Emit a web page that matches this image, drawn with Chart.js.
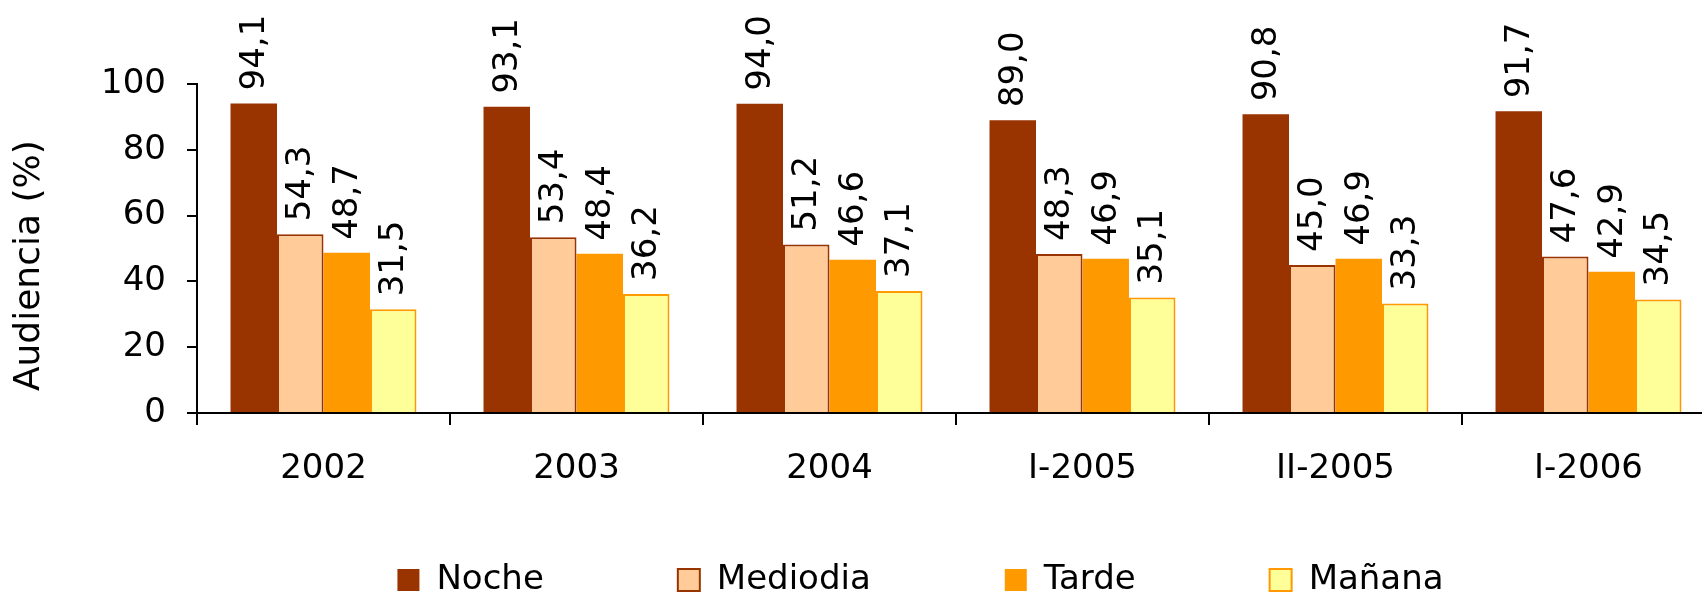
<!DOCTYPE html>
<html>
<head>
<meta charset="utf-8">
<script src="https://cdn.jsdelivr.net/npm/chart.js@4.4.0/dist/chart.umd.min.js"></script>
<style>
  html, body { margin: 0; padding: 0; background: #fff; overflow: hidden; }
  #wrap { width: 1720px; height: 597px; }
</style>
</head>
<body>
<div id="wrap"><canvas id="chart" width="1720" height="597"></canvas></div>
<script>
const categories = ['2002', '2003', '2004', 'I-2005', 'II-2005', 'I-2006'];
const noche = [94.1, 93.1, 94.0, 89.0, 90.8, 91.7];
const mediodia = [54.3, 53.4, 51.2, 48.3, 45.0, 47.6];
const tarde = [48.7, 48.4, 46.6, 46.9, 46.9, 42.9];
const manana = [31.5, 36.2, 37.1, 35.1, 33.3, 34.5];
const yTicks = [0, 20, 40, 60, 80, 100];

const FONT = 'DejaVu Sans';
Chart.defaults.font.family = FONT;
Chart.defaults.color = '#000';

// rotated value labels above each bar
const barLabels = {
  id: 'barLabels',
  afterDatasetsDraw(chart) {
    const ctx = chart.ctx;
    ctx.save();
    ctx.font = '34px "' + FONT + '"';
    ctx.fillStyle = '#000';
    ctx.textAlign = 'left';
    ctx.textBaseline = 'middle';
    chart.data.datasets.forEach((ds, i) => {
      chart.getDatasetMeta(i).data.forEach((bar, j) => {
        ctx.save();
        ctx.translate(bar.x + 1, bar.y - 13);
        ctx.rotate(-Math.PI / 2);
        ctx.fillText(ds.data[j].toFixed(1).replace('.', ','), 0, 0);
        ctx.restore();
      });
    });
    ctx.restore();
  }
};

// the wide item gap of the original legend needs a big padding,
// so move the legend box back to where it sits in the original
const legendShift = {
  id: 'legendShift',
  afterLayout(chart) {
    const lg = chart.legend;
    lg.left += 63;
    lg.right += 63;
    lg.top = 429;
    lg.bottom = chart.height;
    lg.height = lg.bottom - lg.top;
  }
};

new Chart(document.getElementById('chart'), {
  type: 'bar',
  data: {
    labels: categories,
    datasets: [
      { label: 'Noche', data: noche, backgroundColor: '#993300', borderColor: '#993300', borderWidth: 0 },
      { label: 'Mediodia', data: mediodia, backgroundColor: '#FFCC99', borderColor: '#993300', borderWidth: 2 },
      { label: 'Tarde', data: tarde, backgroundColor: '#FF9900', borderColor: '#FF9900', borderWidth: 0 },
      { label: 'Mañana', data: manana, backgroundColor: '#FFFF99', borderColor: '#FF9900', borderWidth: 2 }
    ]
  },
  options: {
    responsive: false,
    animation: false,
    devicePixelRatio: 1,
    categoryPercentage: 0.735,
    barPercentage: 1,
    layout: { padding: { top: 84, right: 5, left: 0, bottom: 0 } },
    plugins: {
      tooltip: { enabled: false },
      legend: {
        position: 'bottom',
        maxHeight: 70,
        labels: {
          font: { size: 34 },
          color: '#000',
          boxWidth: 22,
          boxHeight: 22,
          padding: 134
        }
      }
    },
    scales: {
      x: {
        grid: { drawOnChartArea: false, color: '#000', lineWidth: 2, tickLength: 12 },
        border: { color: '#000', width: 2 },
        ticks: { font: { size: 34 }, color: '#000', padding: 24 },
        afterFit(scale) { scale.height = 114; }
      },
      y: {
        min: 0,
        max: 100,
        afterBuildTicks(scale) { scale.ticks = yTicks.map(v => ({ value: v })); },
        grid: { drawOnChartArea: false, color: '#000', lineWidth: 2, tickLength: 10 },
        border: { color: '#000', width: 2 },
        ticks: { font: { size: 34 }, color: '#000', padding: 21 },
        title: {
          display: true,
          // trailing spaces push the centred title a little lower, as in the original
          text: 'Audiencia (%)   ',
          font: { size: 36 },
          color: '#000',
          padding: { top: 8, bottom: 0 }
        },
        afterFit(scale) { scale.width = 197; }
      }
    }
  },
  plugins: [barLabels, legendShift]
});
</script>
</body>
</html>
